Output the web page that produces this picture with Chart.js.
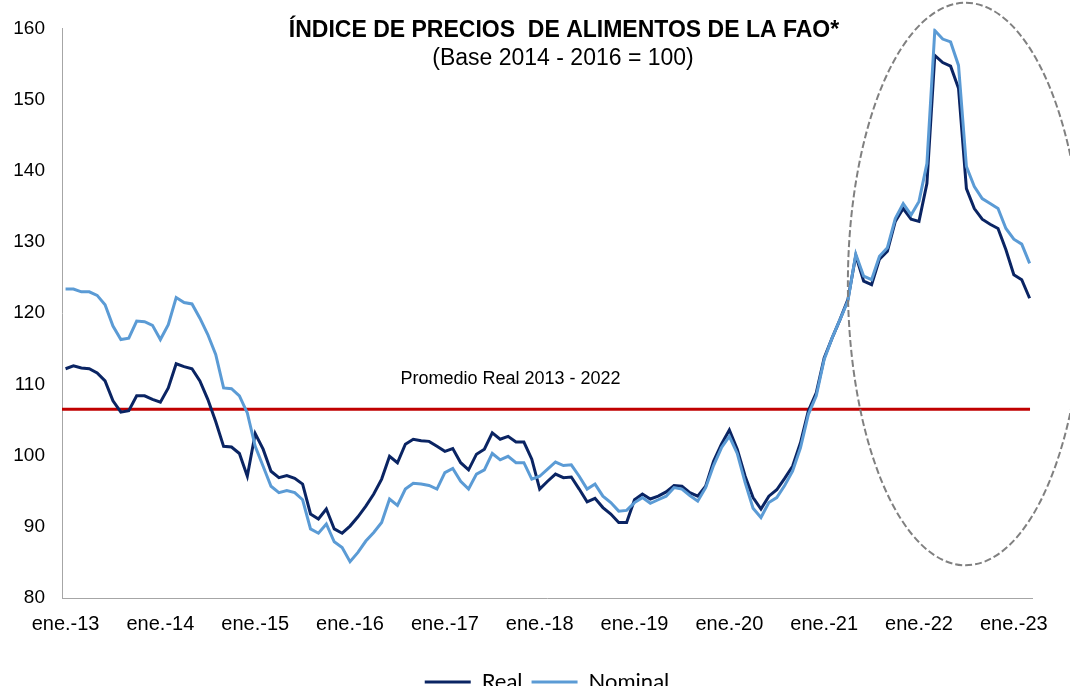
<!DOCTYPE html>
<html><head><meta charset="utf-8">
<script src="https://cdn.jsdelivr.net/npm/chart.js@4/dist/chart.umd.min.js"></script>
<style>html,body{margin:0;padding:0;background:#fff;overflow:hidden}#wrap{position:relative;width:1070px;height:703px}</style>
</head><body><div id="wrap"><canvas id="c"></canvas></div>
<script>
// ---- data (monthly, ene.-13 .. mar.-23) ----
const tickLabels = ['ene.-13','ene.-14','ene.-15','ene.-16','ene.-17','ene.-18','ene.-19','ene.-20','ene.-21','ene.-22','ene.-23'];
const seriesNames = ['Real', 'Nominal'];
const realValues = [
 112.2,112.6,112.3,112.2,111.6,110.5,107.7,106.1,106.3,108.4,108.4,107.9,
 107.5,109.5,112.9,112.5,112.2,110.5,107.9,104.8,101.3,101.2,100.3,97.1,
 103.1,100.9,97.8,96.9,97.2,96.8,96.0,91.8,91.1,92.5,89.7,89.1,
 90.1,91.4,92.9,94.6,96.7,99.9,99.0,101.6,102.3,102.1,102.0,101.3,
 100.6,101.0,99.0,98.0,100.2,100.9,103.2,102.3,102.7,101.9,101.9,99.5,
 95.3,96.4,97.4,96.9,97.0,95.3,93.5,94.0,92.7,91.8,90.6,90.6,
 93.8,94.6,93.9,94.3,94.9,95.8,95.7,94.8,94.3,95.7,99.2,101.6,
 103.6,100.9,97.1,94.1,92.5,94.3,95.2,96.8,98.5,101.8,106.3,108.8,
 113.7,116.5,119.1,121.9,128.1,124.5,124.0,127.6,128.7,132.9,134.7,133.2,
 132.9,138.2,156.2,155.2,154.7,151.6,137.5,134.7,133.2,132.5,131.9,128.9,
 125.4,124.7,122.1
];
const nominalValues = [
 123.4,123.4,123.0,123.0,122.5,121.2,118.2,116.3,116.5,118.9,118.8,118.3,
 116.3,118.4,122.2,121.5,121.3,119.3,117.0,114.2,109.5,109.4,108.4,106.0,
 101.3,98.5,95.7,94.8,95.1,94.8,93.8,89.7,89.1,90.4,87.9,87.1,
 85.1,86.4,88.0,89.2,90.6,93.9,93.0,95.3,96.1,96.0,95.8,95.3,
 97.6,98.2,96.4,95.3,97.4,98.0,100.3,99.4,99.9,99.0,99.0,96.7,
 97.1,98.1,99.1,98.6,98.7,97.1,95.3,96.0,94.3,93.4,92.2,92.3,
 93.4,94.1,93.3,93.8,94.3,95.5,95.3,94.4,93.6,95.5,98.6,101.1,
 102.7,100.3,96.2,92.6,91.3,93.4,94.1,95.8,97.8,101.1,105.8,108.4,
 113.5,116.5,119.1,121.7,128.3,125.2,124.7,128.0,129.2,133.3,135.4,133.8,
 135.7,141.0,159.7,158.5,158.1,154.8,140.6,137.8,136.1,135.4,134.7,131.9,
 130.4,129.7,127.0
];
const promedioReal = 106.5;
const titleText = 'ÍNDICE DE PRECIOS  DE ALIMENTOS DE LA FAO*';
const subtitleText = '(Base 2014 - 2016 = 100)';
const promedioLabel = 'Promedio Real 2013 - 2022';
// highlighted period (ellipse): centre month index / value and half-extents
const highlight = {cx: 113.9, cy: 124.1, rxMonths: 14.9, ryValue: 39.5};

const FONT = '"Liberation Sans", Arial, sans-serif';
const lastIdx = realValues.length - 1;

const toPoints = arr => arr.map((v, i) => ({x: i, y: v}));

const textPlugin = {
  id: 'texts',
  afterDraw(chart) {
    const ctx = chart.ctx;
    const xs = chart.scales.x, ys = chart.scales.y;
    ctx.save();
    // ellipse
    const cx = xs.getPixelForValue(highlight.cx);
    const cy = ys.getPixelForValue(highlight.cy);
    const rx = xs.getPixelForValue(highlight.cx + highlight.rxMonths) - cx;
    const ry = cy - ys.getPixelForValue(highlight.cy + highlight.ryValue);
    ctx.beginPath();
    ctx.setLineDash([7, 3]);
    ctx.lineWidth = 2;
    ctx.strokeStyle = '#808080';
    ctx.ellipse(cx, cy, rx, ry, 0, 0, Math.PI * 2);
    ctx.stroke();
    ctx.setLineDash([]);
    // texts
    ctx.fillStyle = '#000';
    ctx.textAlign = 'center';
    ctx.textBaseline = 'middle';
    ctx.font = 'bold 23px ' + FONT;
    ctx.fillText(titleText, 564, 31);
    ctx.font = '23px ' + FONT;
    ctx.fillText(subtitleText, 563, 59);
    ctx.font = '18px ' + FONT;
    ctx.fillText(promedioLabel, xs.getPixelForValue(56.3), ys.getPixelForValue(promedioReal) - 30);
    ctx.restore();
  }
};

new Chart(document.getElementById('c'), {
  type: 'line',
  data: {
    datasets: [
      {label: seriesNames[0], data: toPoints(realValues), borderColor: '#0a2463', backgroundColor: '#0a2463',
       borderWidth: 3, pointRadius: 0, tension: 0, order: 1},
      {label: seriesNames[1], data: toPoints(nominalValues), borderColor: '#5b9bd5', backgroundColor: '#5b9bd5',
       borderWidth: 3, pointRadius: 0, tension: 0, order: 0},
      {label: promedioLabel, data: [{x: -0.45, y: promedioReal}, {x: lastIdx + 0.05, y: promedioReal}],
       borderColor: '#c00000', backgroundColor: '#c00000', borderWidth: 3, pointRadius: 0, order: 2}
    ]
  },
  options: {
    responsive: true,
    maintainAspectRatio: false,
    animation: false,
    layout: {padding: {left: 0, right: 38, top: 28, bottom: 0}},
    plugins: {
      tooltip: {enabled: false},
      legend: {
        position: 'bottom',
        fullSize: false,
        labels: {
          filter: item => item.datasetIndex < 2,
          sort: (a, b) => a.datasetIndex - b.datasetIndex,
          usePointStyle: true,
          pointStyle: 'line',
          pointStyleWidth: 46,
          padding: 9,
          color: '#000',
          font: {family: 'Lato, "Liberation Sans", sans-serif', size: 22}
        }
      }
    },
    scales: {
      x: {
        type: 'linear',
        min: -0.45,
        max: lastIdx + 0.3,
        grid: {display: false, drawTicks: false},
        border: {display: true, color: '#a6a6a6', width: 1},
        afterBuildTicks: axis => { axis.ticks = tickLabels.map((_, k) => ({value: k * 12})); },
        afterFit: axis => { axis.height = 64; },
        ticks: {
          autoSkip: false, maxRotation: 0, padding: 14, color: '#000',
          font: {family: FONT, size: 20},
          callback: v => tickLabels[Math.round(v / 12)]
        }
      },
      y: {
        min: 80, max: 160,
        grid: {display: false, drawTicks: false},
        border: {display: true, color: '#a6a6a6', width: 1},
        afterFit: axis => { axis.width = 62; },
        ticks: {stepSize: 10, padding: 17, color: '#000', font: {family: FONT, size: 19}}
      }
    }
  },
  plugins: [textPlugin]
});
</script>
</body></html>
